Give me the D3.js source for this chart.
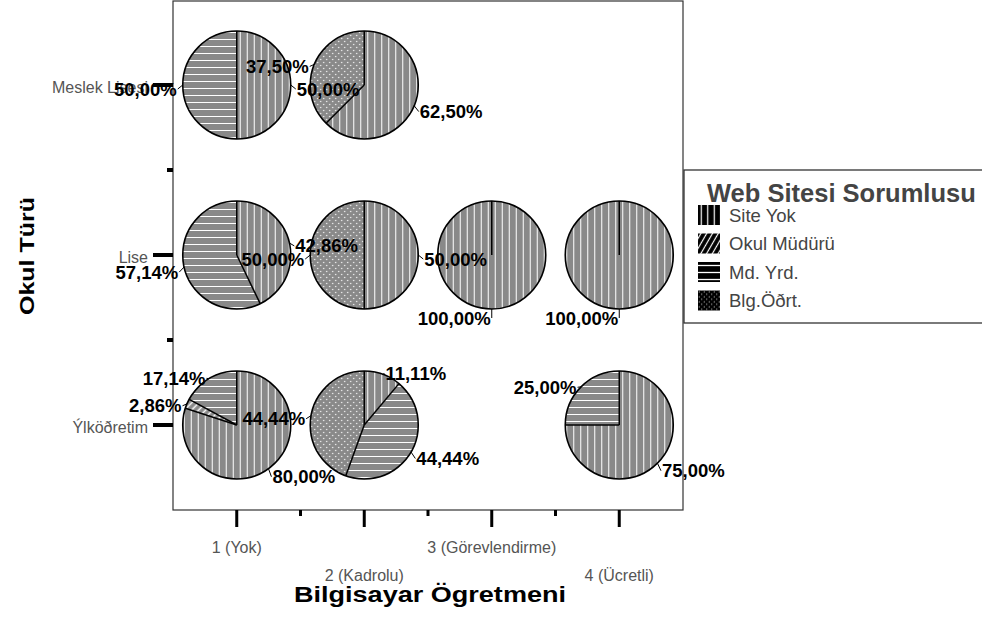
<!DOCTYPE html>
<html><head><meta charset="utf-8">
<script src="https://cdn.jsdelivr.net/npm/d3@7/dist/d3.min.js"></script>
<style>
html,body{margin:0;padding:0;background:#fff;}
svg{display:block;font-family:"Liberation Sans",Arial,sans-serif;}
</style></head>
<body><svg id="chart" width="982" height="617"></svg>
<script>
// ---- data ----
const xCategories = ["1 (Yok)", "2 (Kadrolu)", "3 (Görevlendirme)", "4 (Ücretli)"];
const yCategories = ["Meslek Lisesi", "Lise", "Ýlköðretim"];
const seriesNames = ["Site Yok", "Okul Müdürü", "Md. Yrd.", "Blg.Öðrt."];
// values per cell, row-major (row = yCategories, col = xCategories)
const siteYok    = [50, 62.5, 0, 0,   42.86, 50, 100, 100,   80, 11.11, 0, 75];
const okulMuduru = [0, 0, 0, 0,       0, 0, 0, 0,            2.86, 0, 0, 0];
const mdYrd      = [50, 0, 0, 0,      57.14, 0, 0, 0,        17.14, 44.44, 0, 25];
const blgOgrt    = [0, 37.5, 0, 0,    0, 50, 0, 0,           0, 44.44, 0, 0];
const seriesValues = [siteYok, okulMuduru, mdYrd, blgOgrt];
const xAxisTitle = "Bilgisayar Ögretmeni";
const yAxisTitle = "Okul Türü";
const legendTitle = "Web Sitesi Sorumlusu";

// ---- layout ----
const FONT = "Liberation Sans, Arial, sans-serif";
const svg = d3.select("#chart");
const frame = {left: 173, right: 683, top: 1, bottom: 510};
const x = d3.scaleBand().domain(xCategories).range([frame.left, frame.right]);
const y = d3.scaleBand().domain(yCategories).range([frame.top - 1, frame.bottom]);
const R = 54;

// ---- patterns ----
const defs = svg.append("defs");
const gray = "#898989";
function stripePattern(id, bg, dir, step, lw, rot) {
  const p = defs.append("pattern").attr("id", id).attr("patternUnits", "userSpaceOnUse")
    .attr("width", step).attr("height", step);
  if (rot) p.attr("patternTransform", "rotate(" + rot + ")");
  p.append("rect").attr("width", step).attr("height", step).attr("fill", bg);
  if (dir === "v") p.append("rect").attr("x", (step - lw) / 2).attr("width", lw).attr("height", step).attr("fill", "#fff");
  else p.append("rect").attr("y", (step - lw) / 2).attr("height", lw).attr("width", step).attr("fill", "#fff");
}
function dotPattern(id, bg, step, r) {
  const p = defs.append("pattern").attr("id", id).attr("patternUnits", "userSpaceOnUse")
    .attr("width", step).attr("height", step);
  p.append("rect").attr("width", step).attr("height", step).attr("fill", bg);
  p.append("circle").attr("cx", step * 0.25).attr("cy", step * 0.25).attr("r", r).attr("fill", "#fff");
  p.append("circle").attr("cx", step * 0.75).attr("cy", step * 0.75).attr("r", r).attr("fill", "#fff");
}
stripePattern("pie0", gray, "v", 7, 1, 0);
stripePattern("pie1", gray, "v", 5, 1.5, 45);
stripePattern("pie2", gray, "h", 7, 1, 0);
dotPattern("pie3", gray, 6, 0.7);
stripePattern("leg0", "#000", "v", 6.5, 1.2, 0);
stripePattern("leg1", "#000", "v", 5, 1.2, 30);
stripePattern("leg2", "#000", "h", 7, 1.3, 0);
dotPattern("leg3", "#000", 5, 0.55);

// ---- frame ----
svg.append("rect").attr("x", frame.left).attr("y", frame.top)
  .attr("width", frame.right - frame.left).attr("height", frame.bottom - frame.top)
  .attr("fill", "none").attr("stroke", "#333").attr("stroke-width", 1.2);

// ---- x axis ----
const xAxis = svg.append("g").attr("transform", "translate(0," + frame.bottom + ")")
  .call(d3.axisBottom(x).tickSize(17).tickPadding(0));
xAxis.select(".domain").remove();
xAxis.selectAll(".tick line").attr("stroke", "#000").attr("stroke-width", 3);
xAxis.selectAll(".tick text")
  .attr("y", (d, i) => i % 2 === 0 ? 42.5 : 70.5).attr("dy", null)
  .attr("fill", "#555").attr("font-size", "16px").attr("font-family", FONT);
// minor ticks between categories
svg.append("g").selectAll("line").data(xCategories.slice(1)).join("line")
  .attr("x1", d => x(d)).attr("x2", d => x(d))
  .attr("y1", frame.bottom).attr("y2", frame.bottom + 6)
  .attr("stroke", "#000").attr("stroke-width", 3);

// ---- y axis ----
const yAxis = svg.append("g").attr("transform", "translate(" + frame.left + ",0)")
  .call(d3.axisLeft(y).tickSize(20).tickPadding(5));
yAxis.select(".domain").remove();
yAxis.selectAll(".tick line").attr("stroke", "#000").attr("stroke-width", 4);
yAxis.selectAll(".tick text").attr("fill", "#555").attr("font-size", "16px")
  .attr("dy", "0.5em").attr("font-family", FONT);
svg.append("g").selectAll("line").data(yCategories.slice(1)).join("line")
  .attr("x1", frame.left - 6).attr("x2", frame.left)
  .attr("y1", d => y(d)).attr("y2", d => y(d))
  .attr("stroke", "#000").attr("stroke-width", 4);

// ---- pies ----
const pie = d3.pie().sort(null).value(d => d.value);
const arc = d3.arc().innerRadius(0).outerRadius(R);
const cells = [];
yCategories.forEach((rc, ri) => xCategories.forEach((cc, ci) => {
  const k = ri * xCategories.length + ci;
  const slices = seriesNames.map((s, si) => ({series: si, value: seriesValues[si][k]}));
  const total = d3.sum(slices, d => d.value);
  if (total > 0) cells.push({cx: x(cc) + x.bandwidth() / 2, cy: y(rc) + y.bandwidth() / 2,
    arcs: pie(slices).filter(a => a.data.value > 0)});
}));
const pieG = svg.append("g");
cells.forEach(c => {
  const g = pieG.append("g").attr("transform", "translate(" + c.cx + "," + c.cy + ")");
  g.selectAll("path").data(c.arcs).join("path")
    .attr("d", arc).attr("fill", d => "url(#pie" + d.data.series + ")").attr("stroke", "none");
  g.selectAll("line.sep").data(c.arcs).join("line").attr("class", "sep")
    .attr("x1", 0).attr("y1", 0)
    .attr("x2", d => R * Math.sin(d.startAngle)).attr("y2", d => -R * Math.cos(d.startAngle))
    .attr("stroke", "#000").attr("stroke-width", 1.5);
  g.append("circle").attr("r", R).attr("fill", "none").attr("stroke", "#000").attr("stroke-width", 1.6);
});
// labels
const fmt = v => v.toFixed(2).replace(".", ",") + "%";
const labG = svg.append("g");
cells.forEach(c => {
  c.arcs.forEach(a => {
    const m = (a.startAngle + a.endAngle) / 2;
    const s = Math.sin(m), co = Math.cos(m);
    const x0 = c.cx + R * s, y0 = c.cy - R * co;
    const x1 = c.cx + (R + 5) * s, y1 = c.cy - (R + 5) * co;
    const right = s > 1e-6;
    labG.append("line").attr("x1", x0).attr("y1", y0).attr("x2", x1).attr("y2", y1 + 4)
      .attr("stroke", "#000").attr("stroke-width", 1);
    labG.append("text").attr("x", x1 + (right ? 1 : -1)).attr("y", y1 + 10.5)
      .attr("text-anchor", right ? "start" : "end").attr("font-family", FONT)
      .attr("font-size", "18.5px").attr("font-weight", "bold").attr("fill", "#000")
      .text(fmt(a.data.value));
  });
});

// ---- axis titles ----
svg.append("text").attr("x", 430).attr("y", 602).attr("text-anchor", "middle").attr("font-family", FONT)
  .attr("font-size", "22px").attr("font-weight", "bold").attr("fill", "#000")
  .attr("textLength", 272).attr("lengthAdjust", "spacingAndGlyphs").text(xAxisTitle);
svg.append("text").attr("transform", "translate(34,256) rotate(-90)").attr("text-anchor", "middle")
  .attr("font-family", FONT)
  .attr("font-size", "21px").attr("font-weight", "bold").attr("fill", "#000")
  .attr("textLength", 118).attr("lengthAdjust", "spacingAndGlyphs").text(yAxisTitle);

// ---- legend ----
const lg = svg.append("g");
lg.append("rect").attr("x", 684).attr("y", 170).attr("width", 320).attr("height", 153)
  .attr("fill", "#fff").attr("stroke", "#333").attr("stroke-width", 1.3);
lg.append("text").attr("x", 707).attr("y", 202).attr("font-size", "25.5px").attr("font-weight", "bold")
  .attr("font-family", FONT).attr("fill", "#444").text(legendTitle);
const items = lg.selectAll("g.item").data(seriesNames).join("g").attr("class", "item")
  .attr("transform", (d, i) => "translate(698," + (205 + i * 28.5) + ")");
items.append("rect").attr("width", 22).attr("height", 20)
  .attr("fill", (d, i) => "url(#leg" + i + ")");
items.append("text").attr("x", 31).attr("y", 16.5).attr("font-size", "18.5px").attr("font-family", FONT)
  .attr("fill", "#444").text(d => d);
</script></body></html>
